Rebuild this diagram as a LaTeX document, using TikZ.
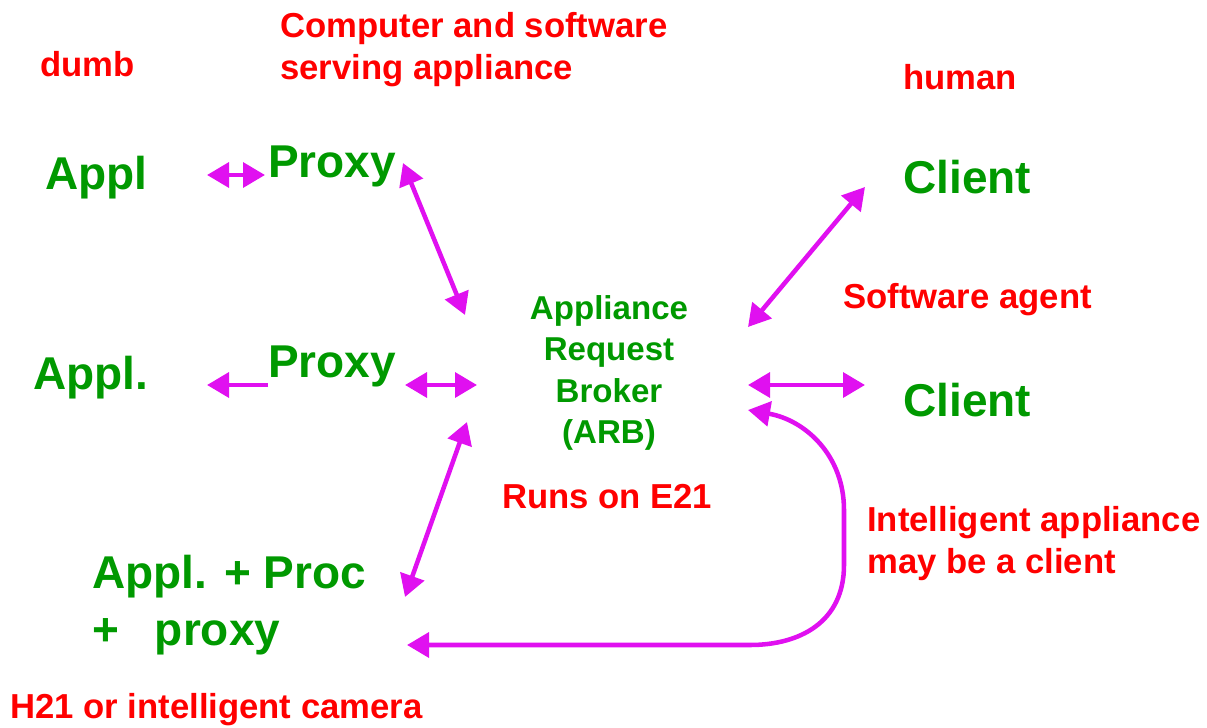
\documentclass[tikz,border=0pt]{standalone}
\usepackage{fontspec}
\setmainfont{Liberation Sans}
\usetikzlibrary{arrows.meta}
\definecolor{lbl}{RGB}{255,0,0}
\definecolor{ent}{RGB}{0,153,0}
\definecolor{link}{RGB}{224,16,240}
\tikzset{
  note/.style={text=lbl, font=\bfseries\fontsize{26}{31.5}\selectfont, inner sep=0pt, anchor=west, align=left},
  ent/.style={text=ent, font=\bfseries\fontsize{34.5}{43}\selectfont, inner sep=0pt, anchor=west, align=left},
  broker/.style={text=ent, font=\bfseries\fontsize{24.8}{31}\selectfont, inner sep=0pt, align=center},
  tip/.style={Triangle[length=16.5pt,width=18.5pt]},
  both/.style={draw=link, line width=3.4pt, {Triangle[length=16.5pt,width=18.5pt]}-{Triangle[length=16.5pt,width=18.5pt]}},
  one/.style={draw=link, line width=3.4pt, -{Triangle[length=16.5pt,width=18.5pt]}},
}
\begin{document}
\begin{tikzpicture}[x=0.75pt, y=-0.75pt]
\useasboundingbox (0,0) rectangle (1207,728);

% annotations
\node[note] (dumb) at (40,64) {dumb};
\node[note] (serving) at (280,50) {Computer and software\\serving appliance};
\node[note] (human) at (903,77) {human};
\node[note] (agent) at (843,300) {Software agent};
\node[note, anchor=center] (runs) at (607,497) {Runs on E21};
\node[note] (smart) at (867,544) {Intelligent appliance\\may be a client};
\node[note] (camera) at (10,710) {H21 or intelligent camera};

% entities
\node[ent] (appl1) at (45,178) {Appl};
\node[ent] (proxy1) at (268,166) {Proxy};
\node[ent] (client1) at (903,177) {Client};
\node[ent] (appl2) at (33,378) {Appl.};
\node[ent] (proxy2) at (268,366) {Proxy};
\node[ent] (client2) at (903,400) {Client};
\node[ent] (appl3) at (92,605) {Appl. + Proc\\+\hspace{0.78em}proxy};
\node[broker] (arb) at (609,373) {Appliance\\Request\\Broker\\(ARB)};

% connector end points
\coordinate (a1) at (207,175);  \coordinate (p1a) at (265,175);
\coordinate (p1b) at (403,163); \coordinate (b1) at (465,315);
\coordinate (c1) at (865,187);  \coordinate (b2) at (748,327);
\coordinate (p2a) at (268,385); \coordinate (a2) at (207,385);
\coordinate (p2b) at (405,385); \coordinate (b3) at (477,385);
\coordinate (b4) at (748,385);  \coordinate (c2) at (865,385);
\coordinate (p3) at (405,597);  \coordinate (b5) at (467,422);
\coordinate (b6) at (748,410);  \coordinate (p4) at (407,645);

% links
\draw[both] (a1) -- (p1a);
\draw[both] (p1b) -- (b1);
\draw[both] (c1) -- (b2);
\draw[one] (p2a) -- (a2);
\draw[both] (p2b) -- (b3);
\draw[both] (b4) -- (c2);
\draw[both] (p3) -- (b5);
\draw[both] (b6) .. controls (805,420) and (844,455) .. (844,510)
  -- (844,565) .. controls (844,622) and (800,645) .. (750,645) -- (p4);
\end{tikzpicture}
\end{document}
